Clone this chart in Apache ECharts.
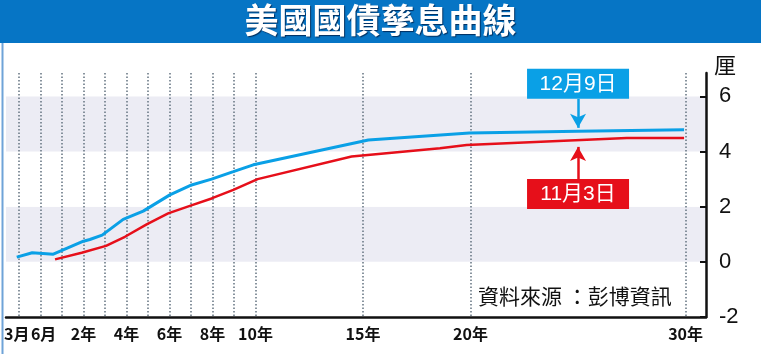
<!DOCTYPE html>
<html>
<head>
<meta charset="utf-8">
<script src="https://cdn.jsdelivr.net/npm/echarts@6/dist/echarts.min.js"></script>
<style>
html, body { margin: 0; padding: 0; background: #fff; }
#chart { width: 761px; height: 354px; }
</style>
</head>
<body>
<div id="chart"></div>
<script>
// x position: -1 = 3月, 0 = 6月, then maturity in years
const gridPositions = [-1, 0, 1, 2, 3, 4, 5, 6, 7, 8, 9, 10, 15, 20, 30];
const labelPositions = [0.15, 2, 4, 6, 8, 10, 15, 20, 30];
const labelNames = ['6月', '2年', '4年', '6年', '8年', '10年', '15年', '20年', '30年'];
// 3月 sits too close to 6月, so it goes on a second label-only axis
const firstPosition = [-1.1];
const firstName = '3月';
const yTicks = [-2, 0, 2, 4, 6];

// 12月9日
const dec9 = [[-1.1, 0.17], [-0.38, 0.33], [0.6, 0.28], [2.0, 0.75], [2.3, 0.81], [2.87, 0.97],
  [3.85, 1.54], [4.78, 1.84], [6.02, 2.43], [7.03, 2.79], [7.96, 3.0], [8.97, 3.27], [9.9, 3.52],
  [15.25, 4.42], [19.95, 4.67], [25, 4.74], [29.93, 4.79]];
// 11月3日
const nov3 = [[0.68, 0.09], [1.92, 0.33], [3.05, 0.58], [3.93, 0.91], [4.94, 1.36], [5.94, 1.76],
  [6.95, 2.03], [7.96, 2.3], [8.97, 2.61], [10.1, 3.0], [14.47, 3.82], [18.58, 4.12], [19.82, 4.24],
  [27.27, 4.49], [29.93, 4.49]];

const BLUE = '#0aa0e6';
const RED = '#e60f1a';
const X_MIN = -1.6, X_MAX = 30.95;

const labelStyle = {
  margin: 9,
  color: '#111',
  fontSize: 16,
  fontWeight: 'bold',
  fontFamily: '"Liberation Sans Narrow", "Noto Sans CJK TC", sans-serif'
};

const chart = echarts.init(document.getElementById('chart'));

const option = {
  animation: false,
  backgroundColor: '#fff',
  grid: { left: 6, right: 55, top: 73, bottom: 37 },
  xAxis: [
    {
      type: 'value',
      min: X_MIN,
      max: X_MAX,
      axisLine: { onZero: false, lineStyle: { color: '#111', width: 2.5 } },
      axisTick: { show: true, customValues: gridPositions, length: 0 },
      axisLabel: Object.assign({
        customValues: labelPositions,
        hideOverlap: false,
        formatter: v => labelNames[labelPositions.indexOf(v)]
      }, labelStyle),
      splitLine: { show: true, lineStyle: { color: '#6c7a87', width: 1.6, type: [1.5, 2] } }
    },
    {
      type: 'value',
      position: 'bottom',
      min: X_MIN,
      max: X_MAX,
      axisLine: { show: false, onZero: false },
      axisTick: { show: false },
      splitLine: { show: false },
      axisLabel: Object.assign({
        customValues: firstPosition,
        formatter: () => firstName
      }, labelStyle)
    }
  ],
  yAxis: {
    type: 'value',
    position: 'right',
    min: -2,
    max: 6.85,
    interval: 2,
    axisLine: { show: true, onZero: false, lineStyle: { color: '#111', width: 2.5 } },
    axisTick: { show: true, inside: true, length: 6, customValues: yTicks, lineStyle: { color: '#111', width: 2 } },
    axisLabel: {
      customValues: yTicks,
      margin: 13,
      color: '#111',
      fontSize: 22,
      fontFamily: '"Liberation Sans", Arial, sans-serif'
    },
    splitLine: { show: false },
    splitArea: { show: true, areaStyle: { color: ['#ffffff', '#ececf4'] } }
  },
  series: [
    {
      name: '11月3日',
      type: 'line',
      data: nov3,
      symbol: 'none',
      z: 3,
      lineStyle: { color: RED, width: 2.5 },
      markPoint: {
        symbol: 'rect',
        symbolSize: [102, 30],
        itemStyle: { color: RED },
        label: {
          show: true, color: '#fff', fontSize: 21,
          fontFamily: '"Liberation Sans", "Noto Sans CJK TC", sans-serif',
          formatter: '11月3日'
        },
        data: [{ coord: [25, 2.46] }]
      },
      markLine: {
        silent: true,
        symbol: ['none', 'arrow'],
        symbolSize: [12, 14],
        label: { show: false },
        lineStyle: { color: RED, width: 2.5, type: 'solid' },
        data: [[{ coord: [25, 3.0] }, { coord: [25, 4.17] }]]
      }
    },
    {
      name: '12月9日',
      type: 'line',
      data: dec9,
      symbol: 'none',
      z: 4,
      lineStyle: { color: BLUE, width: 3 },
      markPoint: {
        symbol: 'rect',
        symbolSize: [102, 30],
        itemStyle: { color: BLUE },
        label: {
          show: true, color: '#fff', fontSize: 21,
          fontFamily: '"Liberation Sans", "Noto Sans CJK TC", sans-serif',
          formatter: '12月9日'
        },
        data: [{ coord: [25, 6.46] }]
      },
      markLine: {
        silent: true,
        symbol: ['none', 'arrow'],
        symbolSize: [12, 14],
        label: { show: false },
        lineStyle: { color: BLUE, width: 2.5, type: 'solid' },
        data: [[{ coord: [25, 5.91] }, { coord: [25, 4.86] }]]
      }
    }
  ],
  graphic: [
    {
      type: 'rect', left: 0, top: 0, z: 100,
      shape: { width: 761, height: 354 },
      style: { fill: 'none', stroke: '#6fa3d8', lineWidth: 2 }
    },
    {
      type: 'rect', left: 0, top: 0, z: 100,
      shape: { width: 761, height: 43 },
      style: { fill: '#0675c5' }
    },
    {
      type: 'text', left: 'center', top: 3, z: 101,
      style: {
        text: '美國國債孳息曲線', fill: '#fff', fontSize: 34, fontWeight: 'bold',
        fontFamily: '"Noto Sans CJK TC", sans-serif',
        textShadowColor: 'rgba(0,30,70,0.8)', textShadowOffsetX: 1, textShadowOffsetY: 1, textShadowBlur: 1
      }
    },
    {
      type: 'text', left: 714, top: 54, z: 100,
      style: { text: '厘', fill: '#111', fontSize: 22, fontFamily: '"Noto Sans CJK TC", sans-serif' }
    },
    {
      type: 'text', left: 478, top: 286, z: 100,
      style: { text: '資料來源 ：彭博資訊', fill: '#111', fontSize: 21, fontFamily: '"Noto Sans CJK TC", sans-serif' }
    }
  ]
};

chart.setOption(option);
</script>
</body>
</html>
